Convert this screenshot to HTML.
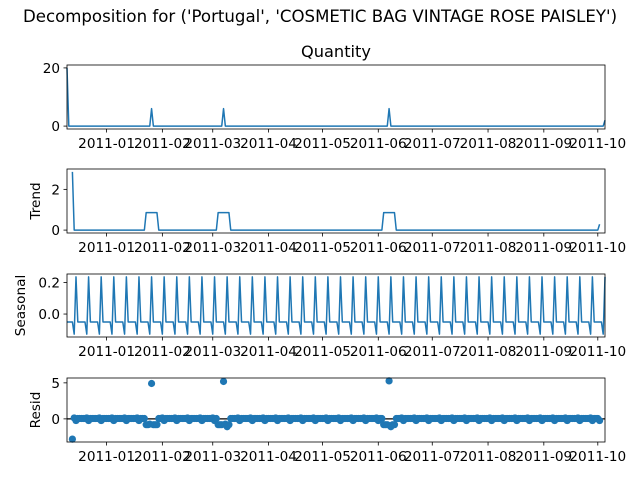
<!DOCTYPE html>
<html><head><meta charset="utf-8"><style>
html,body{margin:0;padding:0;background:#fff}
svg{display:block;font-family:"DejaVu Sans","Liberation Sans",sans-serif}
</style></head><body>
<svg id="c" width="640" height="480" viewBox="0 0 640 480">
<text x="320" y="22" font-size="16.6" text-anchor="middle" fill="#000">Decomposition for ('Portugal', 'COSMETIC BAG VINTAGE ROSE PAISLEY')</text>
<text x="336" y="57" font-size="16.2" text-anchor="middle" fill="#000">Quantity</text>
</svg>
<script>
// ---- data (days since 2010-12-10, daily series of 300 points) ----
const nDays = 300;
const spikeDays = [0, 47, 87, 179, 299];
const spikeValues = [20, 6, 6, 6, 2];
const seasonalPattern = [-0.05, -0.05, -0.05, -0.05, -0.127, 0.235, -0.05]; // indexed by day % 7
const xTickDays = [22, 53, 81, 112, 142, 173, 203, 234, 265, 295];
const xTickLabels = ["2011-01","2011-02","2011-03","2011-04","2011-05","2011-06","2011-07","2011-08","2011-09","2011-10"];
const yTicksQ = [0, 20], yTicksT = [0, 2], yTicksS = [0.0, 0.2], yTicksR = [0, 5];
const yTickLabelsS = ["0.0", "0.2"];

const observed = new Array(nDays).fill(0);
spikeDays.forEach((d, i) => { observed[d] = spikeValues[i]; });
const trend = observed.map((v, i) => {
  if (i < 3 || i > nDays - 4) return null;
  let s = 0; for (let k = -3; k <= 3; k++) s += observed[i + k]; return s / 7;
});
const seasonal = observed.map((v, i) => seasonalPattern[i % 7]);
const resid = observed.map((v, i) => trend[i] === null ? null : v - trend[i] - seasonal[i]);

const svg = document.getElementById('c');
const NS = 'http://www.w3.org/2000/svg';
const X0 = 67, X1 = 605;
const FS = 13.6;
const xs = d => X0 + (X1 - X0) * d / (nDays - 1);
function mk(tag, attrs, parent) {
  const e = document.createElementNS(NS, tag);
  for (const k in attrs) e.setAttribute(k, attrs[k]);
  (parent || svg).appendChild(e); return e;
}
function panel(name, top, bot, vals, ticks, tickLabels, ylabel, labelX, mode) {
  const nums = vals.filter(v => v !== null);
  let lo = Math.min(...nums), hi = Math.max(...nums), m = (hi - lo) * 0.05;
  lo -= m; hi += m;
  const ys = v => bot - (v - lo) / (hi - lo) * (bot - top);
  const g = mk('g', {});
  
  
  if (mode === 'line') {
    let d = '';
    vals.forEach((v, i) => { if (v !== null) d += (d ? 'L' : 'M') + xs(i).toFixed(2) + ',' + ys(v).toFixed(2); });
    const p = mk('path', {d: d, fill: 'none', stroke: '#1f77b4', 'stroke-width': 1.5, 'stroke-linejoin': 'round'}, g);
    
    
  } else {
    const z = mk('line', {x1: X0, x2: X1, y1: ys(0), y2: ys(0), stroke: '#000', 'stroke-width': 1.2}, g);
    
    
    vals.forEach((v, i) => {
      if (v === null) return;
      const c = mk('circle', {cx: xs(i), cy: ys(v), r: 3.6, fill: '#1f77b4'}, g);
      
      
    });
  }
  const fr = mk('rect', {x: X0, y: top, width: X1 - X0, height: bot - top, fill: 'none', stroke: '#000', 'stroke-width': 0.8}, g);
  
  
  ticks.forEach((t, i) => {
    const y = ys(t);
    mk('line', {x1: X0 - 3.5, x2: X0, y1: y, y2: y, stroke: '#000', 'stroke-width': 0.8}, g);
    const tx = mk('text', {x: X0 - 7, y: y + 5, 'font-size': FS, 'text-anchor': 'end'}, g);
    tx.textContent = tickLabels ? tickLabels[i] : String(t);
    
    
  });
  xTickDays.forEach((d, i) => {
    const x = xs(d);
    mk('line', {x1: x, x2: x, y1: bot, y2: bot + 3.5, stroke: '#000', 'stroke-width': 0.8}, g);
    const tx = mk('text', {x: x, y: bot + 19, 'font-size': FS, 'text-anchor': 'middle'}, g);
    tx.textContent = xTickLabels[i];
    
    
  });
  if (ylabel) {
    const cy = (top + bot) / 2;
    const yl = mk('text', {x: labelX, y: cy, 'font-size': FS, 'text-anchor': 'middle', transform: 'rotate(-90 ' + labelX + ' ' + cy + ')'}, g);
    yl.textContent = ylabel;
    
    
  }
}
panel('quantity', 65, 129, observed, yTicksQ, null, null, 0, 'line');
panel('trend', 169, 233, trend, yTicksT, null, 'Trend', 40, 'line');
panel('seasonal', 274, 337, seasonal, yTicksS, yTickLabelsS, 'Seasonal', 25, 'line');
panel('resid', 378, 442, resid, yTicksR, null, 'Resid', 40, 'dots');
</script>
</body></html>
